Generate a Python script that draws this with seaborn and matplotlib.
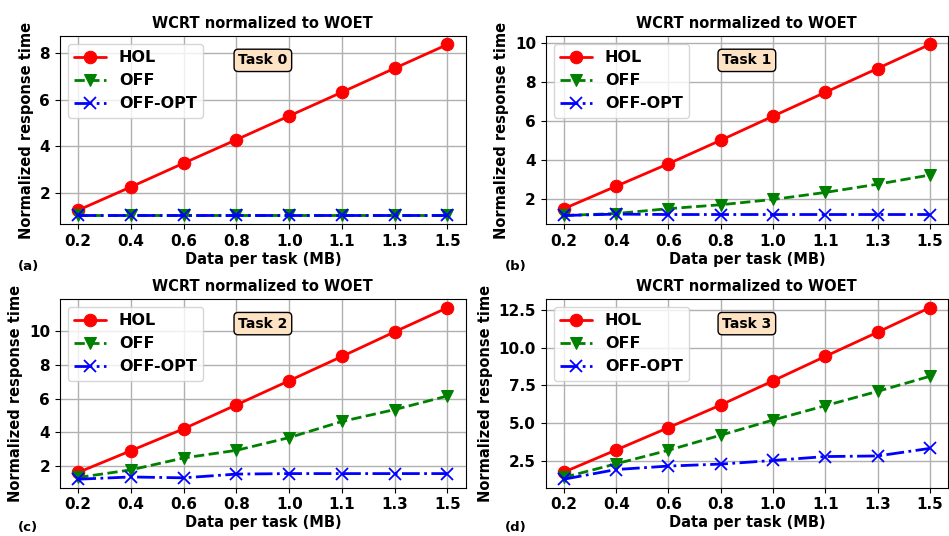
import seaborn as sns
import matplotlib.pyplot as plt
import numpy as np

# x tick labels (data per task, MB)
data_mb = ["0.2", "0.4", "0.6", "0.8", "1.0", "1.1", "1.3", "1.5"]

# normalized response time per task
hol_t0 = [1.25, 2.25, 3.27, 4.28, 5.30, 6.32, 7.35, 8.37]
off_t0 = [1.02, 1.02, 1.02, 1.02, 1.02, 1.02, 1.02, 1.02]
opt_t0 = [1.02, 1.02, 1.02, 1.02, 1.02, 1.02, 1.02, 1.02]

hol_t1 = [1.50, 2.65, 3.80, 5.00, 6.23, 7.45, 8.67, 9.90]
off_t1 = [1.15, 1.25, 1.50, 1.70, 1.97, 2.33, 2.75, 3.22]
opt_t1 = [1.15, 1.22, 1.20, 1.20, 1.20, 1.20, 1.20, 1.20]

hol_t2 = [1.65, 2.93, 4.22, 5.63, 7.05, 8.48, 9.93, 11.35]
off_t2 = [1.35, 1.80, 2.50, 2.95, 3.70, 4.65, 5.35, 6.15]
opt_t2 = [1.25, 1.38, 1.33, 1.55, 1.58, 1.58, 1.58, 1.58]

hol_t3 = [1.75, 3.22, 4.70, 6.20, 7.80, 9.42, 11.02, 12.65]
off_t3 = [1.40, 2.30, 3.20, 4.20, 5.20, 6.15, 7.10, 8.10]
opt_t3 = [1.28, 1.92, 2.15, 2.28, 2.52, 2.78, 2.82, 3.32]

tasks = ["Task 0", "Task 1", "Task 2", "Task 3"]
panel_tags = ["(a)", "(b)", "(c)", "(d)"]
series = [(hol_t0, off_t0, opt_t0), (hol_t1, off_t1, opt_t1),
          (hol_t2, off_t2, opt_t2), (hol_t3, off_t3, opt_t3)]

sns.set_style("ticks", rc={"axes.edgecolor": "black", "grid.color": "#b0b0b0",
                           "xtick.color": "black", "ytick.color": "black",
                           "text.color": "black", "axes.labelcolor": "black"})
plt.rcParams["font.family"] = ["DejaVu Sans"]
plt.rcParams["font.weight"] = "bold"

fig = plt.figure(figsize=(9.49, 5.36), dpi=100)
# axes positions in figure fraction [left, bottom, width, height]
rects = [[0.063, 0.582, 0.428, 0.351], [0.575, 0.582, 0.424, 0.351],
         [0.063, 0.090, 0.428, 0.352], [0.575, 0.090, 0.424, 0.352]]
tag_pos = [(0.019, 0.49), (0.532, 0.49), (0.019, 0.003), (0.532, 0.003)]

x = np.arange(len(data_mb))
for i, (hol, off, opt) in enumerate(series):
    ax = fig.add_axes(rects[i])
    sns.lineplot(x=x, y=hol, ax=ax, color="red", marker="o", markersize=9,
                 markeredgecolor="red", linewidth=2, label="HOL")
    sns.lineplot(x=x, y=off, ax=ax, color="green", marker="v", markersize=9,
                 markeredgecolor="green", linestyle="--", linewidth=2, label="OFF")
    sns.lineplot(x=x, y=opt, ax=ax, color="blue", marker="x", markersize=8,
                 markeredgecolor="blue", markeredgewidth=1.3, linestyle="-.",
                 linewidth=2, label="OFF-OPT")
    ax.grid(True, linewidth=1)
    ax.set_xticks(x)
    ax.set_xticklabels(data_mb)
    ax.tick_params(labelsize=11)
    for lab in ax.get_xticklabels() + ax.get_yticklabels():
        lab.set_fontweight("bold")
    ax.set_title("WCRT normalized to WOET", fontsize=10.5, fontweight="bold")
    ax.set_xlabel("Data per task (MB)", fontsize=10.5, fontweight="bold", labelpad=2)
    ax.set_ylabel("Normalized response time", fontsize=10.5, fontweight="bold")
    ax.legend(loc="upper left", prop={"size": 11.5, "weight": "bold"},
              frameon=True, framealpha=0.8, edgecolor="#cccccc", fancybox=True)
    ax.text(0.5, 0.87, tasks[i], transform=ax.transAxes, ha="center", va="center",
            fontsize=10, fontweight="bold",
            bbox=dict(boxstyle="round", facecolor="#fde2c4", edgecolor="black"))
    fig.text(tag_pos[i][0], tag_pos[i][1], panel_tags[i], fontsize=9.5,
             fontweight="bold", va="bottom")

fig.savefig("out.png", dpi=100)
